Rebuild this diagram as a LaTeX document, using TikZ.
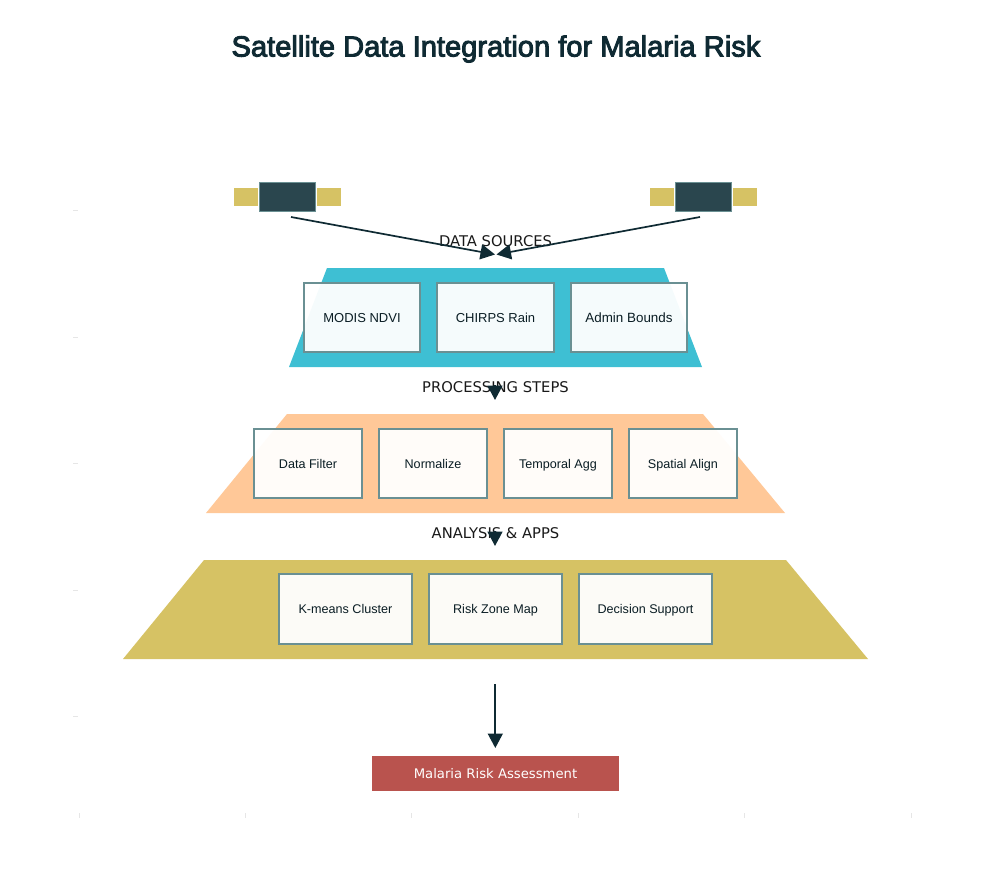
\documentclass[tikz,border=0pt]{standalone}
\usepackage{fontspec}
\setmainfont{Liberation Sans}
\newfontfamily\djv{DejaVu Sans}
\newfontfamily\ttl[FakeBold=3.2]{Liberation Sans}
\usetikzlibrary{arrows.meta}
\definecolor{ink}{HTML}{0F2A33}
\definecolor{teal}{HTML}{3EBFD3}
\definecolor{peach}{HTML}{FFC898}
\definecolor{gold}{HTML}{D6C264}
\definecolor{dark}{HTML}{2A464E}
\definecolor{edge}{HTML}{6A9093}
\definecolor{redb}{HTML}{B9534E}
\definecolor{tick}{HTML}{E6E6E6}
\tikzset{
 x=1pt,y=-1pt,
 card/.style={draw=edge,line width=1.8pt,fill=white,fill opacity=.95,text opacity=1,minimum height=69.5pt,inner sep=0pt,text height=10.6pt,text depth=.9pt,font=\fontsize{12.6}{15}\selectfont,text=ink!70!black},
 band/.style={fill=#1,draw=none},
 tier/.style={font=\djv\fontsize{14.75}{16}\selectfont,text=black!90},
 flow/.style={draw=ink,line width=1.7pt,-{Triangle[length=14.5pt,width=15pt]}},
 wing/.style={fill=gold,draw=none,minimum width=24pt,minimum height=18pt,inner sep=0pt},
 body/.style={fill=dark,draw=edge,line width=.6pt,minimum width=56.5pt,minimum height=29.5pt,inner sep=0pt},
 tk/.style={draw=tick,line width=.7pt},
}
\begin{document}
\begin{tikzpicture}
\useasboundingbox (0,0) rectangle (991,891);
\node[font=\ttl\fontsize{29.1}{32}\selectfont,text=ink] (title) at (496,49) {Satellite Data Integration for Malaria Risk};
\foreach \y in {210,337,463,590,716} \draw[tk] (73,\y) -- (78,\y);
\foreach \x in {79,245,411,578,744,911} \draw[tk] (\x,813) -- (\x,818);
\fill[band=teal] (327,268) -- (664,268) -- (702,367) -- (289,367) -- cycle;
\fill[band=peach] (287,414) -- (703,414) -- (785,513) -- (206,513) -- cycle;
\fill[band=gold] (204,560) -- (786,560) -- (868,659) -- (123,659) -- cycle;
\node[wing] (s1l) at (246,197) {};
\node[wing] (s1r) at (329,197) {};
\node[body] (s1) at (287.5,197) {};
\node[wing] (s2l) at (662,197) {};
\node[wing] (s2r) at (745,197) {};
\node[body] (s2) at (703.5,197) {};
\node[tier] (t1) at (495.5,241) {DATA SOURCES};
\node[tier] (t2) at (495.5,387) {PROCESSING STEPS};
\node[tier] (t3) at (495.5,533) {ANALYSIS \& APPS};
\coordinate (a1s) at (291,217); \coordinate (a1e) at (495,254.5);
\coordinate (a2s) at (700,217); \coordinate (a2e) at (496.5,254.5);
\coordinate (a3s) at (495,385); \coordinate (a3e) at (495,400);
\coordinate (a4s) at (495,531); \coordinate (a4e) at (495,546);
\coordinate (a5s) at (495.3,684); \coordinate (a5e) at (495.3,748);
\draw[flow] (a1s) -- (a1e);
\draw[flow] (a2s) -- (a2e);
\draw[flow] (a3s) -- (a3e);
\draw[flow] (a4s) -- (a4e);
\draw[flow] (a5s) -- (a5e);
\node[card,minimum width=116.5pt,font=\fontsize{13}{15}\selectfont] (m1) at (362,317.5) {MODIS NDVI};
\node[card,minimum width=116.5pt,font=\fontsize{13}{15}\selectfont] (m2) at (495.5,317.5) {CHIRPS Rain};
\node[card,minimum width=116.5pt,font=\fontsize{13.4}{15}\selectfont] (m3) at (629,317.5) {Admin Bounds};
\node[card,minimum width=108pt] (p1) at (308,463.5) {Data Filter};
\node[card,minimum width=108pt] (p2) at (433,463.5) {Normalize};
\node[card,minimum width=108pt] (p3) at (558,463.5) {Temporal Agg};
\node[card,minimum width=108pt] (p4) at (683,463.5) {Spatial Align};
\node[card,minimum width=133pt] (k1) at (345.5,609) {K-means Cluster};
\node[card,minimum width=133pt] (k2) at (495.5,609) {Risk Zone Map};
\node[card,minimum width=133pt] (k3) at (645.5,609) {Decision Support};
\node[fill=redb,minimum width=247.5pt,minimum height=35.5pt,inner sep=0pt,text=white,font=\djv\fontsize{13.2}{15}\selectfont] (out) at (495.5,773.7) {Malaria Risk Assessment};
\end{tikzpicture}
\end{document}
